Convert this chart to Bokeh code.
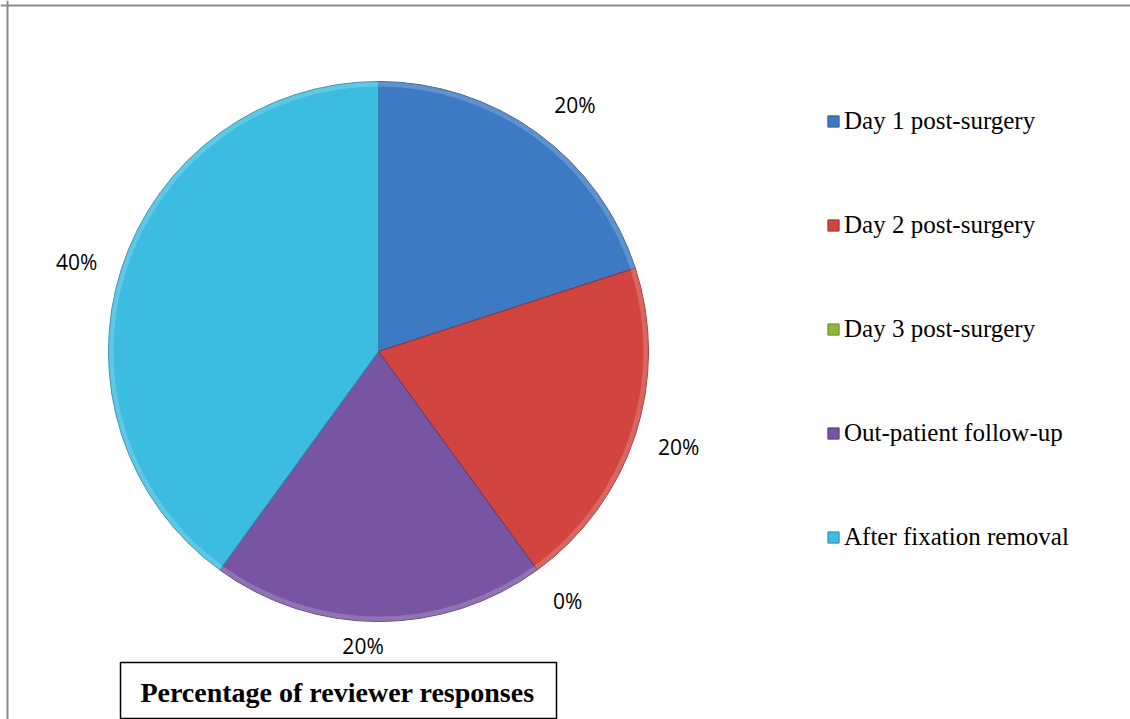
import numpy as np
from bokeh.plotting import figure
from bokeh.models import (Range1d, Span, Label, BoxAnnotation, Legend,
                          LegendItem, ColumnDataSource)
from bokeh.core.properties import value
from bokeh.embed import file_html
from bokeh.resources import INLINE

# ---------------- data ----------------
categories = ["Day 1 post-surgery", "Day 2 post-surgery", "Day 3 post-surgery",
              "Out-patient follow-up", "After fixation removal"]
percent = [20, 20, 0, 20, 40]
label_texts = ["20%", "20%", "0%", "20%", "40%"]
title_text = "Percentage of reviewer responses"

# ---------------- styles / layout ----------------
colors = ["#3E7AC4", "#D2443F", "#8DB53F", "#7855A2", "#3BBCE0"]
edge_colors = ["#2C5A92", "#9A302C", "#6A8A2E", "#573C7A", "#2A8AA6"]
label_radius = [315, 315, 313, 295, 315]
label_nudge_deg = [-2.6, 0.3, 1.2, -3.0, 1.4]

W, H = 1130, 719
def iy(y):  # picture pixel row -> data y
    return H - y

CX, CY, R = 378, iy(351), 270

frac = np.array(percent, dtype=float) / sum(percent)
cum = np.cumsum(frac)
start = np.pi / 2 - (cum - frac) * 2 * np.pi
end = np.pi / 2 - cum * 2 * np.pi
mid = (start + end) / 2
# a 0% slice is drawn with no area (it only appears in the legend)
radius = np.where(frac > 0, R, 0.0)
rim_inner = np.where(frac > 0, R - 5, 0.0)

src = ColumnDataSource(dict(cat=categories, start=start, end=end, radius=radius,
                            rim_inner=rim_inner, color=colors, edge=edge_colors))

ang = mid + np.radians(label_nudge_deg)
lx = CX + np.array(label_radius) * np.cos(ang)
ly = CY + np.array(label_radius) * np.sin(ang)
lab_src = ColumnDataSource(dict(x=lx, y=ly, t=label_texts))

p = figure(width=W, height=H, output_backend="svg", toolbar_location=None,
           x_range=Range1d(0, W), y_range=Range1d(0, H),
           min_border=0, outline_line_color=None)
p.xaxis.visible = False
p.yaxis.visible = False
p.grid.visible = False
p.background_fill_color = "white"
p.border_fill_color = "white"

r = p.wedge(x=CX, y=CY, radius="radius", start_angle="start", end_angle="end",
            direction="clock", fill_color="color", line_color="edge",
            line_width=1, source=src)
# light bevel along the rim of every slice
p.annular_wedge(x=CX, y=CY, inner_radius="rim_inner", outer_radius="radius",
                start_angle="start", end_angle="end", direction="clock",
                fill_color="white", fill_alpha=0.18, line_color=None, source=src)

p.text(x="x", y="y", text="t", source=lab_src, text_align="center",
       text_baseline="alphabetic", y_offset=0,
       text_font=value("Open Sans"), text_font_size="21px", text_color="black")

legend = Legend(items=[LegendItem(label=c, renderers=[r], index=i)
                       for i, c in enumerate(categories)],
                location=(826, 167), orientation="vertical",
                glyph_width=14, glyph_height=14, label_standoff=4,
                label_text_font="Liberation Serif", label_text_font_size="25px",
                label_text_color="black", label_height=30, spacing=74,
                padding=0, margin=0, border_line_color=None,
                background_fill_alpha=0)
p.add_layout(legend)

# frame lines (top and left)
p.add_layout(Span(location=7, dimension="height", line_color="#8c8c8c", line_width=2))
p.add_layout(Span(location=iy(5), dimension="width", line_color="#8c8c8c", line_width=2))

# title box
p.add_layout(BoxAnnotation(left=120, right=556, top=iy(662), bottom=iy(718),
                           fill_color="white", fill_alpha=1, line_color="black",
                           line_width=1.5, line_alpha=1, line_dash="solid"))
p.add_layout(Label(x=337, y=iy(692), text=title_text, text_align="center",
                   text_baseline="alphabetic", text_font="Liberation Serif",
                   text_font_style="bold", text_font_size="28px", text_color="black"))

open("out.html", "w").write(file_html(p, INLINE))
